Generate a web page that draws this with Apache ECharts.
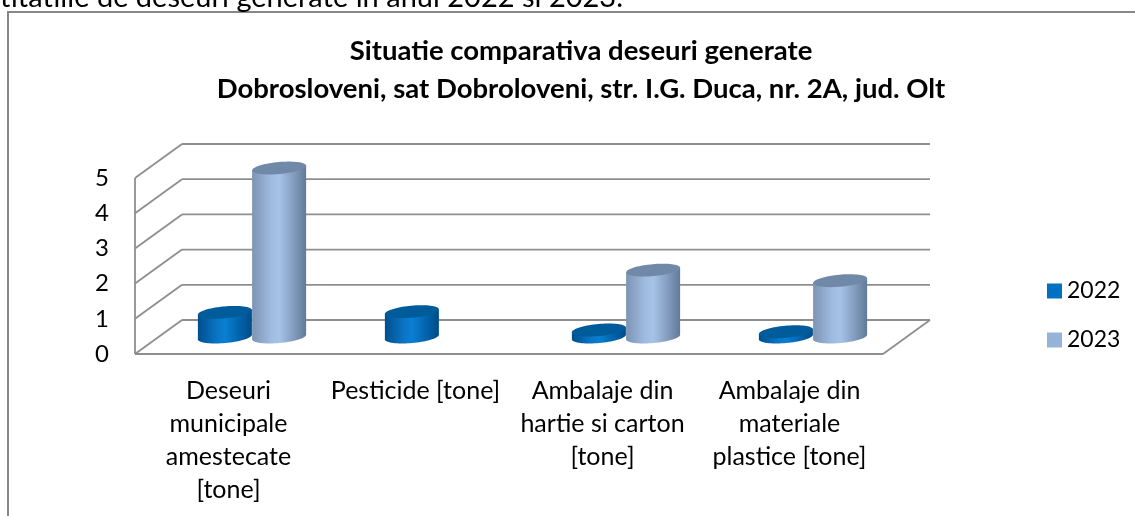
<!DOCTYPE html>
<html><head><meta charset="utf-8">
<script src="https://cdn.jsdelivr.net/npm/echarts@6/dist/echarts.min.js"></script>
<style>html,body{margin:0;padding:0;background:#fff}#c{width:1135px;height:516px}</style>
</head><body><div id="c"></div>
<script>
// ---- data ----
const categories = [
  'Deseuri\nmunicipale\namestecate\n[tone]',
  'Pesticide [tone]',
  'Ambalaje din\nhartie si carton\n[tone]',
  'Ambalaje din\nmateriale\nplastice [tone]'
];
const years = ['2022', '2023'];
const values2022 = [0.7, 0.72, 0.2, 0.15];
const values2023 = [4.8, null, 1.9, 1.6];
const yTicks = [0, 1, 2, 3, 4, 5];
const titleLines = [
  'Situatie comparativa deseuri generate',
  'Dobrosloveni, sat Dobroloveni, str. I.G. Duca, nr. 2A, jud. Olt'
];
const pageText = 'titatiile de deseuri generate in anul 2022 si 2023.';

// ---- styling / 3D geometry ----
const DX = 47, DY = -34;
const FONT = 'Lato, "Open Sans", sans-serif';
const TILT = 0.09;
const palettes = [
  { body: ['#004f8c', '#0a74c4', '#0a7fd2', '#0060a6', '#004c86'], top: '#005b9a', legend: '#0070C0' },
  { body: ['#7d94b4', '#9fbbe0', '#a6c3e6', '#7f98ba', '#627a98'], top: '#7189a9', legend: '#95B3D7' }
];

function ellipsePts(cx, cy, rx, ry, th) {
  const pts = [], c = Math.cos(th), s = Math.sin(th);
  for (let k = 0; k < 72; k++) {
    const t = k / 72 * Math.PI * 2;
    const a = rx * Math.cos(t), b = ry * Math.sin(t);
    pts.push([cx + a * c + b * s, cy - a * s + b * c]);
  }
  return pts;
}

function wallItem(params, api) {
  const v = api.value(0);
  const cs = params.coordSys;
  const y = api.coord([0, v])[1];
  const x0 = cs.x, x1 = cs.x + cs.width;
  const ls = { stroke: '#8e8e8e', lineWidth: 1.8 };
  const children = [
    { type: 'line', shape: { x1: x0 + DX, y1: y + DY, x2: x1 + DX, y2: y + DY }, style: ls },
    { type: 'line', shape: { x1: x0, y1: y, x2: x0 + DX, y2: y + DY }, style: ls }
  ];
  if (v === 0) {
    const yTop = api.coord([0, yTicks[yTicks.length - 1]])[1];
    children.push({ type: 'line', shape: { x1: x0, y1: y, x2: x1, y2: y }, style: ls });
    children.push({ type: 'line', shape: { x1: x1, y1: y, x2: x1 + DX, y2: y + DY }, style: ls });
    children.push({ type: 'line', shape: { x1: x0, y1: y, x2: x0, y2: yTop }, style: ls });
  }
  return { type: 'group', children };
}

function cylinderRenderer(sIdx) {
  const pal = palettes[sIdx];
  return function (params, api) {
    const v = api.value(1);
    if (v == null || isNaN(v)) return null;
    const i = api.value(0);
    const base = api.coord([i, 0]);
    const topP = api.coord([i, v]);
    const band = api.size([1, 0])[0];
    const w = band * 0.29;
    const rx = w / 2, ry = 6;
    const cx = base[0] + DX / 2 + (sIdx === 0 ? -rx : rx);
    const yb = base[1] + DY / 2;
    const yt = topP[1] + DY / 2;
    const c = Math.cos(TILT), s = Math.sin(TILT);
    const grad = {
      type: 'linear', x: 0, y: 0, x2: 1, y2: 0,
      colorStops: [
        { offset: 0, color: pal.body[0] },
        { offset: 0.35, color: pal.body[1] },
        { offset: 0.5, color: pal.body[2] },
        { offset: 0.8, color: pal.body[3] },
        { offset: 1, color: pal.body[4] }
      ]
    };
    const body = [
      [cx - rx * c, yt + rx * s], [cx + rx * c, yt - rx * s],
      [cx + rx * c, yb - rx * s], [cx - rx * c, yb + rx * s]
    ];
    return {
      type: 'group',
      children: [
        { type: 'polygon', shape: { points: ellipsePts(cx, yb, rx, ry, TILT) }, style: { fill: grad } },
        { type: 'polygon', shape: { points: body }, style: { fill: grad } },
        { type: 'polygon', shape: { points: ellipsePts(cx, yt, rx, ry, TILT) }, style: { fill: pal.top } }
      ]
    };
  };
}

const seriesValues = [values2022, values2023];
const chart = echarts.init(document.getElementById('c'), null, { renderer: 'canvas' });
chart.setOption({
  animation: false,
  backgroundColor: '#ffffff',
  title: {
    text: titleLines.join('\n'),
    left: 576, top: 27, textAlign: 'center',
    textStyle: { fontFamily: FONT, fontSize: 27.5, fontWeight: 'bold', color: '#000', lineHeight: 38 }
  },
  legend: {
    orient: 'vertical', left: 1042, top: 272,
    itemWidth: 15, itemHeight: 15, itemGap: 21, icon: 'rect',
    textStyle: { fontFamily: FONT, fontSize: 23, color: '#000', lineHeight: 28 },
    data: years
  },
  graphic: [
    { type: 'rect', silent: true, z: -10, shape: { x: 8, y: 12, width: 1400, height: 800 },
      style: { fill: 'none', stroke: '#878787', lineWidth: 2 } },
    { type: 'text', silent: true, x: 0, y: -2,
      style: { text: pageText, fontFamily: FONT, fontSize: 29, fill: '#000', verticalAlign: 'middle', align: 'left' } }
  ],
  grid: { left: 135, right: 252, top: 178, bottom: 162, containLabel: false },
  xAxis: {
    type: 'category', data: categories,
    axisLine: { show: false }, axisTick: { show: false }, splitLine: { show: false },
    axisLabel: { interval: 0, margin: 20, fontFamily: FONT, fontSize: 25, lineHeight: 33, color: '#000', align: 'center' }
  },
  yAxis: {
    type: 'value', min: 0, max: 5, interval: 1,
    axisLine: { show: false }, axisTick: { show: false }, splitLine: { show: false },
    axisLabel: { margin: 26, fontFamily: FONT, fontSize: 24, color: '#000', padding: [8, 0, 0, 0] }
  },
  series: [
    {
      type: 'custom', name: 'walls', silent: true, z: 1,
      renderItem: wallItem, data: yTicks.map(v => [v]), encode: { y: 0 }
    }
  ].concat(years.map((y, si) => ({
    type: 'custom', name: y, z: 2 + si,
    itemStyle: { color: palettes[si].legend },
    renderItem: cylinderRenderer(si),
    encode: { x: 0, y: 1 },
    data: seriesValues[si].map((v, i) => [i, v == null ? '-' : v])
  })))
});
</script></body></html>
